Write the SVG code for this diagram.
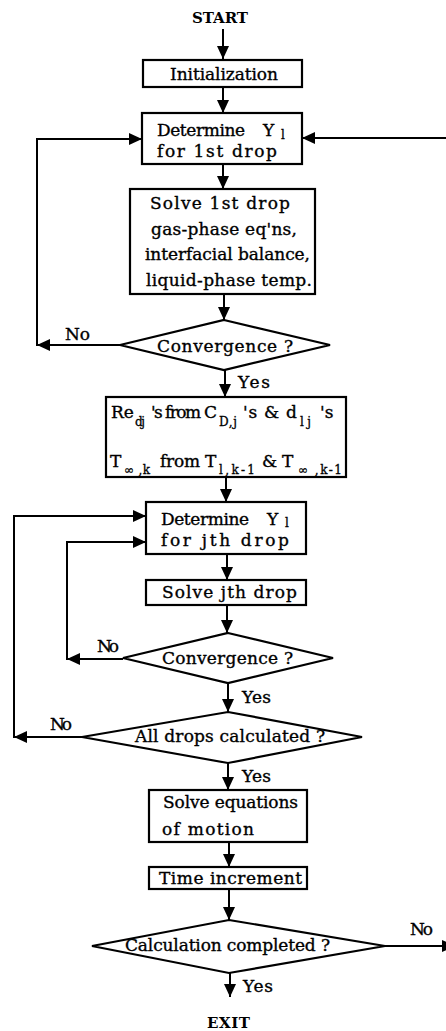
<svg xmlns="http://www.w3.org/2000/svg" width="446" height="1031" viewBox="0 0 446 1031">
<style>
.box{fill:#fff;stroke:#000;stroke-width:2.2}
.c{fill:none;stroke:#000;stroke-width:2}
.t{font-family:"DejaVu Serif","Liberation Serif",serif;font-size:17px;fill:#000;stroke:#000;stroke-width:0.35}
.b{font-family:"DejaVu Serif","Liberation Serif",serif;font-size:15px;font-weight:bold;fill:#000}
.s{font-family:"DejaVu Serif","Liberation Serif",serif;font-size:12px;fill:#000;stroke:#000;stroke-width:0.3}
</style>
<defs>
<marker id="ah" viewBox="0 0 13 12" refX="13" refY="6" markerWidth="13" markerHeight="12" markerUnits="userSpaceOnUse" orient="auto">
<path d="M0,0 L13,6 L0,12 Z" fill="#000"/>
</marker>
</defs>
<g id="connectors">
<line class="c" x1="223" y1="29" x2="223" y2="59" marker-end="url(#ah)"/>
<line class="c" x1="223" y1="87" x2="223" y2="113" marker-end="url(#ah)"/>
<line class="c" x1="223" y1="164" x2="223" y2="189" marker-end="url(#ah)"/>
<line class="c" x1="224" y1="294" x2="224" y2="320" marker-end="url(#ah)"/>
<path class="c" d="M120,345 H37" marker-end="url(#ah)"/>
<path class="c" d="M37,346 V139 H142" marker-end="url(#ah)"/>
<path class="c" d="M446,138 H302" marker-end="url(#ah)"/>
<line class="c" x1="225" y1="370" x2="225" y2="397" marker-end="url(#ah)"/>
<line class="c" x1="226" y1="477" x2="226" y2="502" marker-end="url(#ah)"/>
<line class="c" x1="227" y1="554" x2="227" y2="580" marker-end="url(#ah)"/>
<line class="c" x1="227" y1="605" x2="227" y2="633" marker-end="url(#ah)"/>
<path class="c" d="M123,659 H67" marker-end="url(#ah)"/>
<path class="c" d="M67,660 V542 H146" marker-end="url(#ah)"/>
<line class="c" x1="228" y1="683" x2="228" y2="712" marker-end="url(#ah)"/>
<path class="c" d="M82,737 H14" marker-end="url(#ah)"/>
<path class="c" d="M14,738 V516 H146" marker-end="url(#ah)"/>
<line class="c" x1="228" y1="763" x2="228" y2="790" marker-end="url(#ah)"/>
<line class="c" x1="229" y1="842" x2="229" y2="867" marker-end="url(#ah)"/>
<line class="c" x1="229" y1="889" x2="229" y2="920" marker-end="url(#ah)"/>
<path class="c" d="M385,946 H455" marker-end="url(#ah)"/>
<line class="c" x1="230" y1="973" x2="230" y2="997" marker-end="url(#ah)"/>
<text class="t" x="65" y="340" textLength="25">No</text>
<text class="t" x="238" y="388" textLength="32">Yes</text>
<text class="t" x="97" y="652" textLength="22">No</text>
<text class="t" x="242" y="703" textLength="29">Yes</text>
<text class="t" x="50" y="730" textLength="22">No</text>
<text class="t" x="242" y="782" textLength="29">Yes</text>
<text class="t" x="410" y="935" textLength="23">No</text>
<text class="t" x="243" y="992" textLength="30">Yes</text>
</g>
<g id="start">
<text class="b" x="192" y="23" textLength="56">START</text>
</g>
<g id="init">
<rect class="box" x="143" y="60" width="159" height="27"/>
<text class="t" x="170" y="80" textLength="108">Initialization</text>
</g>
<g id="det1">
<rect class="box" x="142" y="113" width="160" height="51"/>
<text class="t" x="157" y="136" textLength="88">Determine</text>
<text class="t" x="263" y="136">Y</text>
<text class="s" x="281" y="139">l</text>
<text class="t" x="157" y="157" textLength="120">for  1st  drop</text>
</g>
<g id="solve1">
<rect class="box" x="130" y="189" width="185" height="105"/>
<text class="t" x="150" y="209" textLength="140">Solve  1st  drop</text>
<text class="t" x="151" y="235" textLength="146">gas-phase eq'ns,</text>
<text class="t" x="145" y="260" textLength="165">interfacial balance,</text>
<text class="t" x="146" y="286" textLength="166">liquid-phase temp.</text>
</g>
<g id="conv1">
<polygon class="box" points="224,320 330,345 224,370 120,345"/>
<text class="t" x="157" y="352" textLength="136">Convergence ?</text>
</g>
<g id="re">
<rect class="box" x="106" y="397" width="240" height="80"/>
<text class="t" x="111" y="418">Re</text>
<text class="s" x="135" y="426" textLength="10">dj</text>
<text class="t" x="151" y="418" textLength="50">'s from</text>
<text class="t" x="204" y="418">C</text>
<text class="s" x="219" y="426" textLength="18">D,j</text>
<text class="t" x="243" y="418" textLength="54">'s &amp; d</text>
<text class="s" x="300" y="426" textLength="11">lj</text>
<text class="t" x="320" y="418">'s</text>
<text class="t" x="110" y="467">T</text>
<text class="s" x="124" y="474" textLength="26">∞ ,k</text>
<text class="t" x="160" y="467" textLength="40">from</text>
<text class="t" x="205" y="467">T</text>
<text class="s" x="219" y="474" textLength="36">l,k-1</text>
<text class="t" x="262" y="467">&amp;</text>
<text class="t" x="282" y="467">T</text>
<text class="s" x="298" y="474" textLength="44">∞ ,k-1</text>
</g>
<g id="detj">
<rect class="box" x="146" y="502" width="160" height="52"/>
<text class="t" x="161" y="525" textLength="88">Determine</text>
<text class="t" x="267" y="525">Y</text>
<text class="s" x="285" y="527">l</text>
<text class="t" x="161" y="546" textLength="128">for  jth  drop</text>
</g>
<g id="solvej">
<rect class="box" x="146" y="580" width="160" height="25"/>
<text class="t" x="162" y="598" textLength="135">Solve jth drop</text>
</g>
<g id="conv2">
<polygon class="box" points="228,633 333,658 228,683 123,658"/>
<text class="t" x="162" y="664" textLength="131">Convergence ?</text>
</g>
<g id="alldrops">
<polygon class="box" points="228,712 362,737 228,763 82,737"/>
<text class="t" x="135" y="742" textLength="190">All drops calculated ?</text>
</g>
<g id="motion">
<rect class="box" x="149" y="790" width="158" height="52"/>
<text class="t" x="163" y="808" textLength="135">Solve equations</text>
<text class="t" x="162" y="835" textLength="92">of  motion</text>
</g>
<g id="time">
<rect class="box" x="149" y="867" width="158" height="22"/>
<text class="t" x="159" y="884" textLength="143">Time increment</text>
</g>
<g id="calc">
<polygon class="box" points="229,920 385,946 229,973 92,946"/>
<text class="t" x="125" y="951" textLength="205">Calculation completed ?</text>
</g>
<g id="exit">
<text class="b" x="207" y="1028" textLength="43">EXIT</text>
</g>
</svg>
